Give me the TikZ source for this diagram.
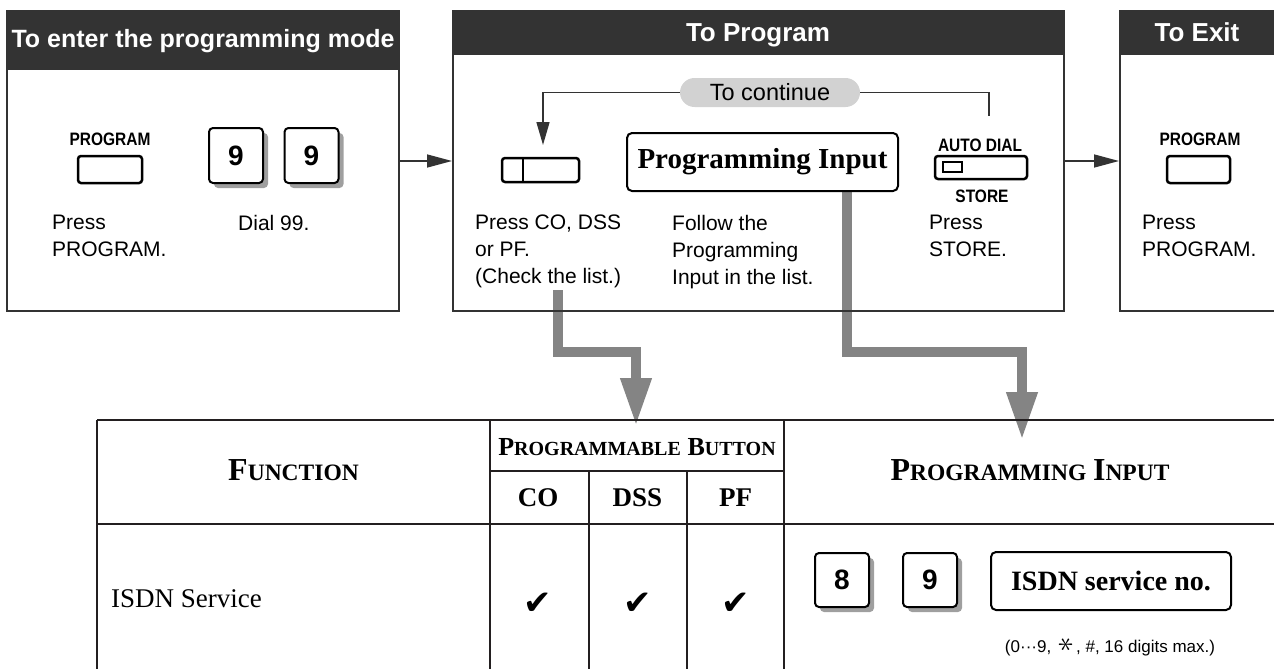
\documentclass[tikz,border=0pt]{standalone}
\usepackage{graphicx}
\usepackage{fontspec}
\setmainfont{Liberation Serif}
\setsansfont{Liberation Sans}
\newfontfamily\checkfont{DejaVu Sans}
\usetikzlibrary{arrows.meta,positioning,shadows}
\definecolor{headgray}{HTML}{333333}
\definecolor{pipegray}{HTML}{848484}
\definecolor{pillgray}{HTML}{D2D2D2}
\definecolor{inkgray}{HTML}{231F20}
\newcommand{\narrow}[1]{\scalebox{0.86}[1]{#1}}
\newcommand{\bigsc}[2]{{\fontsize{32}{34}\selectfont #1}{\fontsize{23.5}{26}\selectfont #2}}
\newcommand{\smallsc}[2]{{\fontsize{26}{28}\selectfont #1}{\fontsize{20}{22}\selectfont #2}}
\newcommand{\starkey}{\rotatebox[origin=c]{90}{\scalebox{1.8}{$\ast$}}}

\begin{document}
\begin{tikzpicture}[x=1pt,y=-1pt,every node/.style={inner sep=0pt},
  panel/.style={draw=headgray,line width=2pt},
  title/.style={text=white,font=\sffamily\bfseries\fontsize{26}{28}\selectfont,anchor=base},
  body/.style={font=\sffamily\fontsize{21}{27}\selectfont,align=left,anchor=north west},
  btnlabel/.style={font=\sffamily\bfseries\fontsize{18}{20}\selectfont,anchor=base},
  btn/.style={draw,line width=2.5pt,rounded corners=3pt},
  keycap/.style={draw,line width=2pt,rounded corners=4pt,fill=white,minimum width=54pt,minimum height=55pt,font=\sffamily\bfseries\fontsize{28}{30}\selectfont,drop shadow={shadow xshift=5pt,shadow yshift=-5pt,fill=gray!75,opacity=1}},
  inbox/.style={draw,line width=2pt,rounded corners=5pt,fill=white,font=\bfseries\fontsize{29}{31}\selectfont},
  flow/.style={draw=headgray,line width=1.5pt,-{Triangle[length=25pt,width=13pt]}},
  pipe/.style={draw=pipegray,line width=10pt,-{Triangle[length=48pt,width=29pt]}},
  rule/.style={draw=inkgray,line width=2.2pt},
  thinrule/.style={draw=inkgray,line width=1.5pt},
  cell/.style={font=\bfseries\fontsize{27}{29}\selectfont,anchor=base},
  checkmark/.style={font=\checkfont\fontsize{34}{36}\selectfont}]
\useasboundingbox (0,0) rectangle (1274,669);
\clip (0,0) rectangle (1274,669);

\coordinate (pipeA) at (558,290);
\coordinate (pipeAtip) at (636,426);
\coordinate (pipeB) at (847,191);
\coordinate (pipeBtip) at (1022,440);
\draw[pipe] (pipeA) -- ++(0,62) -| (pipeAtip);
\draw[pipe] (pipeB) -- ++(0,161) -| (pipeBtip);

\node[panel,minimum width=392pt,minimum height=300pt] (enter) at (203,161) {};
\node[panel,minimum width=611pt,minimum height=300pt] (prog) at (758.5,161) {};
\node[panel,minimum width=220pt,minimum height=300pt,anchor=west] (exit) at (1119,161) {};
\fill[headgray] (7,10) rectangle (399,70);
\fill[headgray] (453,10) rectangle (1064,55);
\fill[headgray] (1119,10) rectangle (1330,55);
\node[title] (entertitle) at (203,48) {\fontsize{25}{27}\selectfont To enter the programming mode};
\node[title] (progtitle) at (758,42) {To Program};
\node[title] (exittitle) at (1197,42) {To Exit};

\node[btnlabel] (proglabA) at (110,145) {\narrow{PROGRAM}};
\node[btn,minimum width=64pt,minimum height=27pt] (progbtnA) at (110,169.5) {};
\node[keycap] (nineA) at (236,155.5) {9};
\node[keycap] (nineB) at (311.5,155.5) {9};
\node[body] (pressA) at (52,215) {Press\\PROGRAM.};
\node[body] (dial) at (238,215) {Dial 99.};

\node[fill=pillgray,rounded corners=14.5pt,minimum width=180pt,minimum height=29pt,font=\sffamily\fontsize{23.5}{25}\selectfont] (cont) at (770,92.5) {To continue};
\node[btn,minimum width=77pt,minimum height=24pt] (cobtn) at (540.5,170) {};
\draw[line width=2pt] (523,158) -- (523,182);
\node[inbox,minimum width=271pt,minimum height=58pt] (progin) at (762.5,162) {Programming Input};
\node[btnlabel] (autolab) at (980,151) {\narrow{AUTO DIAL}};
\node[btn,minimum width=92pt,minimum height=23pt] (storebtn) at (981,167.5) {};
\draw[line width=1.2pt] (943,162) rectangle (962,172);
\node[btnlabel] (storelab) at (982,202) {\narrow{STORE}};
\node[body] (pressB) at (475,215) {Press CO, DSS\\or PF.\\(Check the list.)};
\node[body] (follow) at (672,215) {Follow the\\Programming\\Input in the list.};
\node[body] (pressC) at (929,215) {Press\\STORE.};

\node[btnlabel] (proglabB) at (1200,145) {\narrow{PROGRAM}};
\node[btn,minimum width=63pt,minimum height=27pt] (progbtnB) at (1198.5,169.5) {};
\node[body] (pressD) at (1142,215) {Press\\PROGRAM.};

\coordinate (backtip) at (543,145);
\coordinate (storeup) at (989,116);
\draw[flow] (enter.east) -- (prog.west);
\draw[flow] (prog.east) -- (exit.west);
\draw[flow,-{Triangle[length=23pt,width=13pt]}] (cont.west) -| (backtip);
\draw[draw=headgray,line width=1.5pt] (cont.east) -| (storeup);

\draw[rule] (97,420) -- (1274,420);
\draw[rule] (97,524) -- (1274,524);
\draw[thinrule] (490,471) -- (784,471);
\foreach \x in {97,490,784} \draw[thinrule] (\x,420) -- (\x,669);
\foreach \x in {589,687} \draw[thinrule] (\x,471) -- (\x,669);

\node[cell] (funchead) at (293.5,480) {\bigsc{F}{UNCTION}};
\node[cell] (btnhead) at (637,455) {\smallsc{P}{ROGRAMMABLE} \smallsc{B}{UTTON}};
\node[cell] (cohead) at (538,506) {CO};
\node[cell] (dsshead) at (637.5,506) {DSS};
\node[cell] (pfhead) at (735.5,506) {PF};
\node[cell] (inhead) at (1030,480) {\bigsc{P}{ROGRAMMING} \bigsc{I}{NPUT}};
\node[font=\fontsize{27}{29}\selectfont,anchor=base west] (isdn) at (111,607) {ISDN Service};
\foreach \x/\n in {538/co,637.5/dss,735.5/pf} \node[checkmark] (tick\n) at (\x,604) {✔};

\node[keycap,minimum height=54pt] (eight) at (842,580) {8};
\node[keycap,minimum height=54pt] (nineC) at (930,580) {9};
\node[inbox,minimum width=240pt,minimum height=58pt,font=\bfseries\fontsize{28}{30}\selectfont] (isdnno) at (1111,581) {ISDN service no.};
\node[font=\sffamily\fontsize{17}{19}\selectfont,anchor=base] (hint) at (1110,652) {(0···9, \,\starkey\,, \#, 16 digits max.)};
\end{tikzpicture}
\end{document}
